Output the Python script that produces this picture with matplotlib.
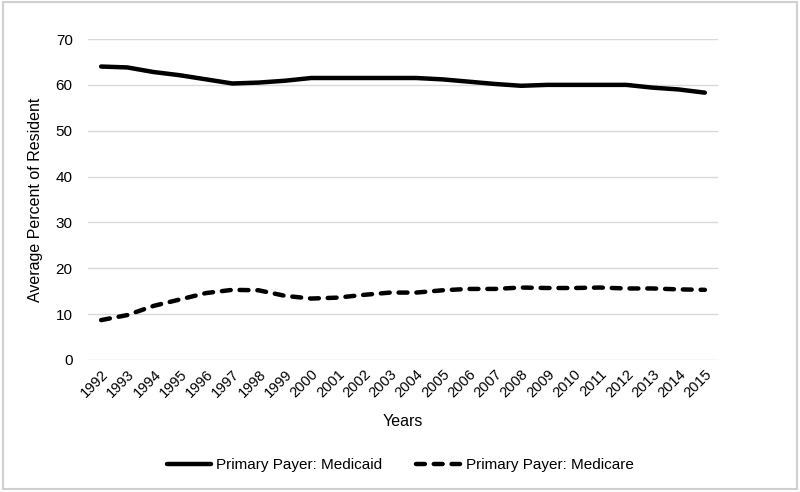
import matplotlib
matplotlib.use("Agg")
import matplotlib.pyplot as plt
from matplotlib.patches import Rectangle

plt.rcParams['font.family'] = ['Liberation Sans', 'DejaVu Sans']

years = [str(y) for y in range(1992, 2016)]
medicaid = [64.0, 63.8, 62.8, 62.1, 61.2, 60.3, 60.5, 60.9, 61.5, 61.5, 61.5, 61.5,
            61.5, 61.2, 60.7, 60.2, 59.8, 60.0, 60.0, 60.0, 60.0, 59.4, 59.0, 58.3]
medicare = [8.7, 9.8, 11.8, 13.2, 14.6, 15.3, 15.2, 14.0, 13.4, 13.6, 14.2, 14.7,
            14.7, 15.2, 15.5, 15.5, 15.8, 15.7, 15.7, 15.8, 15.6, 15.6, 15.4, 15.3]
yticks = [0, 10, 20, 30, 40, 50, 60, 70]

fig = plt.figure(figsize=(8.0, 4.92), dpi=100)
ax = fig.add_axes([0.11, 0.2683, 0.7875, 0.6524])

x = list(range(len(years)))
ax.plot(x, medicaid, color='black', lw=3.2, solid_capstyle='round',
        label='Primary Payer: Medicaid')
ax.plot(x, medicare, color='black', lw=3.2, ls=(0, (2.0, 2.0)), dash_capstyle='round',
        label='Primary Payer: Medicare')

ax.set_xlim(-0.5, len(years) - 0.5)
ax.set_ylim(0, 70)
ax.set_yticks(yticks)
ax.set_xticks(x)
ax.set_xticklabels(years, rotation=45, ha='right', rotation_mode='anchor', fontsize=10.5)
ax.tick_params(axis='y', length=0, labelsize=11, pad=11)
ax.tick_params(axis='x', length=0, pad=5)
ax.grid(axis='y', color='#d9d9d9', lw=1)
ax.set_axisbelow(True)
for s in ax.spines.values():
    s.set_visible(False)

ax.set_ylabel('Average Percent of Resident', fontsize=11.5, labelpad=9)
ax.set_xlabel('Years', fontsize=11.5, labelpad=10)

fig.legend(loc='center', bbox_to_anchor=(0.5, 1 - 465 / 492), ncol=2, frameon=False,
           fontsize=11, handlelength=2.9, columnspacing=2.2, handletextpad=0.35)

fig.patches.append(Rectangle((0.004, 0.006), 0.992, 0.99, transform=fig.transFigure,
                             fill=False, edgecolor='#d0d0d0', lw=1.5))

fig.savefig('out.png', dpi=100)
